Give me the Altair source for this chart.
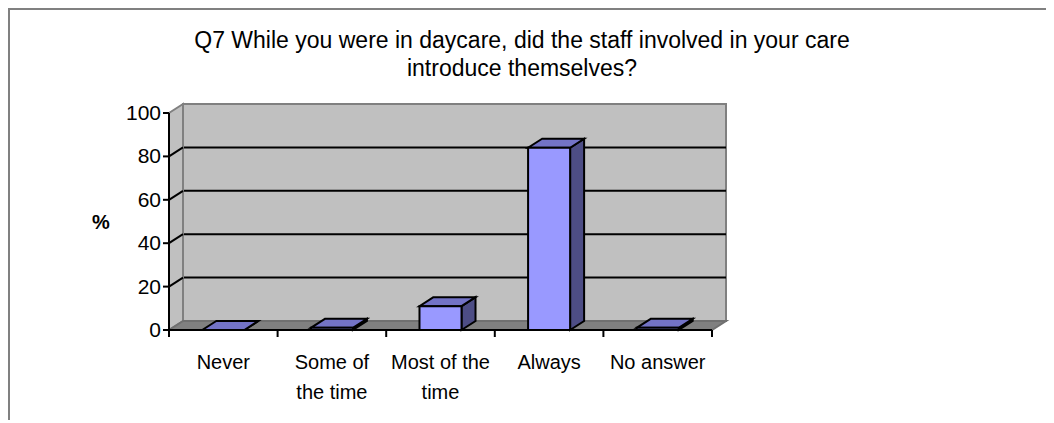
import altair as alt
import pandas as pd

# ---------------- data ----------------
title_lines = ["Q7  While you were in daycare, did the staff involved in your care",
               "introduce themselves?"]
categories = ["Never", "Some of the time", "Most of the time", "Always", "No answer"]
label_lines = [["Never"], ["Some of", "the time"], ["Most of the", "time"], ["Always"], ["No answer"]]
values = [0, 1, 11, 84, 1]
y_ticks = [0, 20, 40, 60, 80, 100]
y_title = "%"

# ---------------- geometry / style ----------------
W, H = 557, 226
n = len(categories)
ymax = y_ticks[-1]
DPX, DPY = 14, 9                       # 3-D depth in pixels
dx = DPX * n / (W - DPX)               # depth in x data units
de = DPY * ymax / (H - DPY)            # depth in y data units
bw = 0.387                             # bar width fraction of band
FONT = "Liberation Sans"

xs = alt.Scale(domain=[0, n + dx], nice=False, zero=False)
ys = alt.Scale(domain=[0, ymax + de], nice=False, zero=False)

def X(f, **kw):
    return alt.X(f, type="quantitative", scale=xs, axis=None, **kw)

def Y(f, **kw):
    return alt.Y(f, type="quantitative", scale=ys, axis=None, **kw)

# back wall
wall = pd.DataFrame({"x0": [dx], "x1": [n + dx], "y0": [de], "y1": [ymax + de]})
back = alt.Chart(wall).mark_rect(fill="#c0c0c0", stroke="#808080", strokeWidth=2).encode(
    x=X("x0"), x2="x1", y=Y("y0"), y2="y1")

# side wall
side_df = pd.DataFrame({"x": [0, dx], "lo": [0, de], "hi": [ymax, ymax + de]})
side = alt.Chart(side_df).mark_area(orient="vertical", fill="#c0c0c0", stroke="#808080",
                                    strokeWidth=2, interpolate="linear").encode(
    x=X("x", stack=False), y=Y("lo", stack=False), y2="hi")

# floor
floor_df = pd.DataFrame({"y": [0, de], "l": [0, dx], "r": [n, n + dx]})
floor = alt.Chart(floor_df).mark_area(orient="horizontal", fill="#808080", stroke="#707070",
                                      strokeWidth=2, interpolate="linear").encode(
    y=Y("y", stack=False), x=X("l", stack=False), x2="r")

# gridlines
gv = y_ticks[1:-1]
grid_back = alt.Chart(pd.DataFrame({"a": [dx] * len(gv), "b": [n + dx] * len(gv),
                                    "v": [v + de for v in gv]})).mark_rule(
    color="black", strokeWidth=2).encode(x=X("a"), x2="b", y=Y("v"))
grid_side = alt.Chart(pd.DataFrame({"a": [0] * len(gv), "b": [dx] * len(gv), "v": gv,
                                    "v2": [v + de for v in gv]})).mark_rule(
    color="black", strokeWidth=2).encode(x=X("a"), x2="b", y=Y("v"), y2="v2")

# bars
bars = pd.DataFrame({"cat": categories, "i": range(n), "v": values})
bars["x0"] = bars["i"] + (1 - bw) / 2
bars["x1"] = bars["i"] + (1 + bw) / 2
bars["zero"] = 0

front = alt.Chart(bars).mark_rect(fill="#9999ff", stroke="black", strokeWidth=2).encode(
    x=X("x0"), x2="x1", y=Y("zero"), y2="v")

top_rows, right_rows = [], []
for c, x0, x1, v in zip(bars["cat"], bars["x0"], bars["x1"], bars["v"]):
    top_rows.append({"cat": c, "y": v, "l": x0, "r": x1})
    top_rows.append({"cat": c, "y": v + de, "l": x0 + dx, "r": x1 + dx})
    right_rows.append({"cat": c, "x": x1, "lo": 0, "hi": v})
    right_rows.append({"cat": c, "x": x1 + dx, "lo": de, "hi": v + de})

topf = alt.Chart(pd.DataFrame(top_rows)).mark_area(
    orient="horizontal", fill="#7373c6", stroke="black", strokeWidth=2,
    interpolate="linear").encode(
    y=Y("y", stack=False), x=X("l", stack=False), x2="r", detail="cat:N")
rightf = alt.Chart(pd.DataFrame(right_rows)).mark_area(
    orient="vertical", fill="#4d4d85", stroke="black", strokeWidth=2,
    interpolate="linear").encode(
    x=X("x", stack=False), y=Y("lo", stack=False), y2="hi", detail="cat:N")

# axis lines and ticks
xaxis = alt.Chart(pd.DataFrame({"a": [0], "b": [n], "y": [0]})).mark_rule(
    color="black", strokeWidth=2).encode(x=X("a"), x2="b", y=Y("y"))
yaxis = alt.Chart(pd.DataFrame({"x": [0], "a": [0], "b": [ymax]})).mark_rule(
    color="black", strokeWidth=2).encode(x=X("x"), y=Y("a"), y2="b")
xticks = alt.Chart(pd.DataFrame({"t": list(range(n + 1))})).mark_rule(
    color="black", strokeWidth=2).encode(x=X("t"), y=alt.value(H), y2=alt.value(H + 7))
ytk = pd.DataFrame({"v": y_ticks, "lab": [str(v) for v in y_ticks]})
yticks = alt.Chart(ytk).mark_rule(color="black", strokeWidth=2).encode(
    x=alt.value(-6), x2=alt.value(0), y=Y("v"))
ylabels = alt.Chart(ytk).mark_text(font=FONT, fontSize=21, color="black", align="right",
                                   baseline="middle", dy=1).encode(
    x=alt.value(-8), y=Y("v"), text="lab:N")

# category labels
lab = pd.DataFrame({"c": [i + 0.5 for i in range(n)],
                    "txt": ["\n".join(l) for l in label_lines]})
xlabels = alt.Chart(lab).mark_text(font=FONT, fontSize=20, color="black", align="center",
                                   baseline="alphabetic", lineBreak="\n", lineHeight=30).encode(
    x=X("c"), y=alt.value(H + 39), text="txt:N")

# "%" axis title
ytitle = alt.Chart(pd.DataFrame({"t": [y_title]})).mark_text(
    font=FONT, fontSize=20, fontWeight="bold", color="black", align="center",
    baseline="middle").encode(x=alt.value(-68), y=alt.value(119), text="t:N")

# chart title
ttl = alt.Chart(pd.DataFrame({"t": ["\n".join(title_lines)]})).mark_text(
    font=FONT, fontSize=23, color="black", align="center", baseline="alphabetic",
    lineBreak="\n", lineHeight=28).encode(x=alt.value(353), y=alt.value(-56), text="t:N")

# outer frame (left and top edges)
fr = pd.DataFrame({"k": [0]})
frame_l = alt.Chart(fr).mark_rule(color="#808080", strokeWidth=2).encode(
    x=alt.value(-160), y=alt.value(-96), y2=alt.value(H + 100))
frame_t = alt.Chart(fr).mark_rule(color="#808080", strokeWidth=2).encode(
    x=alt.value(-161), x2=alt.value(W + 330), y=alt.value(-95))

chart = alt.layer(
    back, grid_back, side, grid_side, floor, rightf, topf, front,
    xaxis, yaxis, xticks, yticks, ylabels, xlabels, ytitle, ttl, frame_l, frame_t
).properties(
    width=W, height=H,
    padding={"left": 161, "top": 96, "right": 320, "bottom": 90},
    autosize=alt.AutoSizeParams(type="none"),
    background="white",
).configure_view(stroke=None)

chart.save("out.html", embed_options={"renderer": "svg", "actions": False})
